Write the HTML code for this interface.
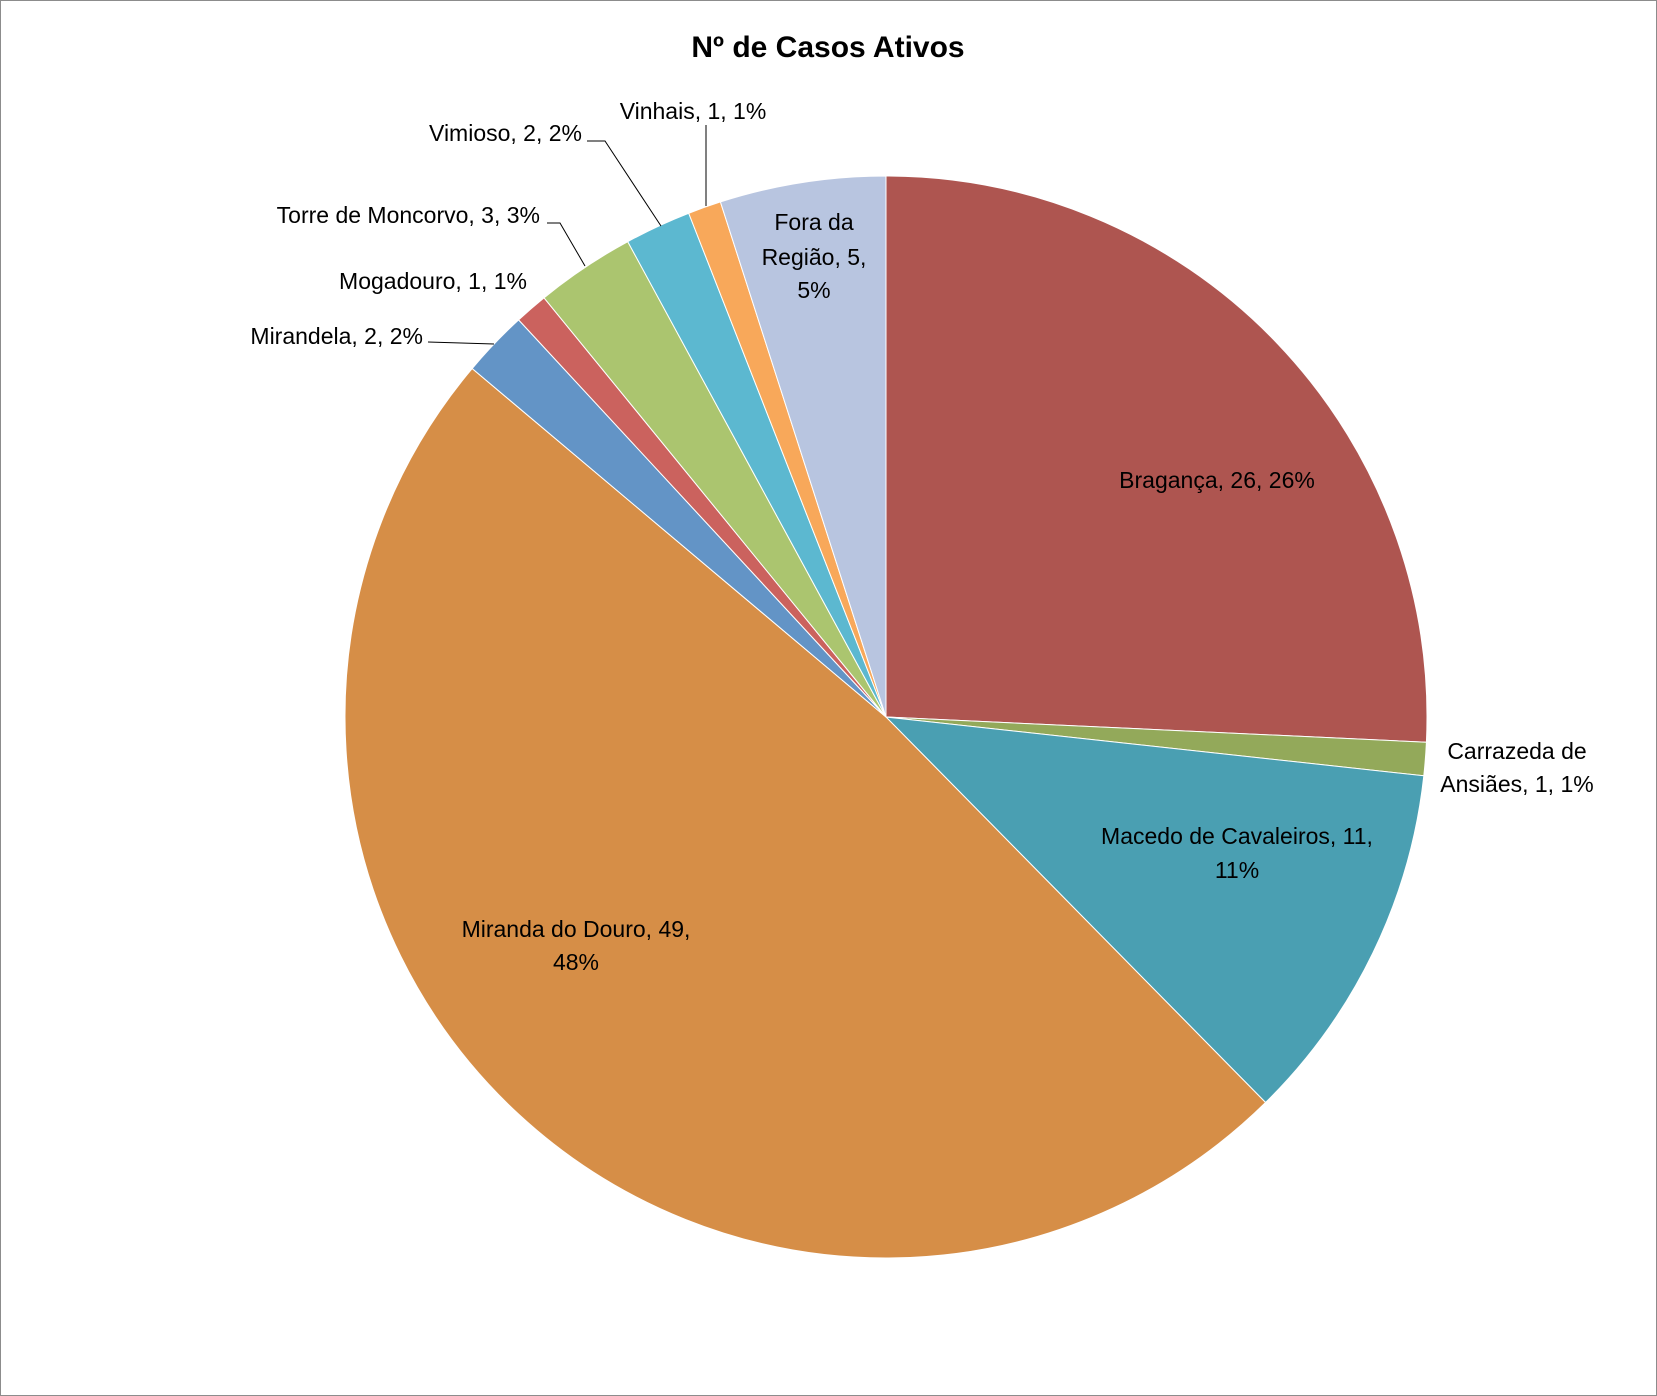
<!DOCTYPE html>
<html><head><meta charset="utf-8"><style>
html,body{margin:0;padding:0;background:#fff}
svg{display:block}
text{font-family:"Liberation Sans",sans-serif;fill:#000}
</style></head><body>
<svg id="chart" width="1657" height="1396" viewBox="0 0 1657 1396" xmlns="http://www.w3.org/2000/svg">
<rect x="0.5" y="0.5" width="1656" height="1395" fill="#fff" stroke="#8c8c8c" stroke-width="1"/>
<text x="828" y="49" text-anchor="middle" dominant-baseline="middle" font-size="30" font-weight="bold">Nº de Casos Ativos</text>
<g id="slices"></g>
<g id="leaders" stroke="#000" stroke-width="1" fill="none">
<polyline points="706,125 706,206"/>
<polyline points="587,141 605,141 661,226"/>
<polyline points="547,223 560,223 585,266"/>
<polyline points="428,342 494,344"/>
</g>
<g id="labels" font-size="23">
<text x="1217" y="482" text-anchor="middle" dominant-baseline="middle">Bragança, 26, 26%</text>
<text text-anchor="middle" dominant-baseline="middle"><tspan x="1517" y="753">Carrazeda de</tspan><tspan x="1517" y="786">Ansiães, 1, 1%</tspan></text>
<text text-anchor="middle" dominant-baseline="middle"><tspan x="1237" y="838">Macedo de Cavaleiros, 11,</tspan><tspan x="1237" y="872">11%</tspan></text>
<text text-anchor="middle" dominant-baseline="middle"><tspan x="576" y="931">Miranda do Douro, 49,</tspan><tspan x="576" y="964">48%</tspan></text>
<text text-anchor="middle" dominant-baseline="middle"><tspan x="814" y="224">Fora da</tspan><tspan x="814" y="259">Região, 5,</tspan><tspan x="814" y="292">5%</tspan></text>
<text x="693" y="113" text-anchor="middle" dominant-baseline="middle">Vinhais, 1, 1%</text>
<text x="582" y="135" text-anchor="end" dominant-baseline="middle">Vimioso, 2, 2%</text>
<text x="540" y="217" text-anchor="end" dominant-baseline="middle">Torre de Moncorvo, 3, 3%</text>
<text x="527" y="283" text-anchor="end" dominant-baseline="middle">Mogadouro, 1, 1%</text>
<text x="423" y="338" text-anchor="end" dominant-baseline="middle">Mirandela, 2, 2%</text>
</g>
</svg>
<script>
const categories = ["Bragança","Carrazeda de Ansiães","Macedo de Cavaleiros","Miranda do Douro","Mirandela","Mogadouro","Torre de Moncorvo","Vimioso","Vinhais","Fora da Região"];
const values = [26,1,11,49,2,1,3,2,1,5];
const colors = ["#AE5550","#93A95A","#4A9FB2","#D68E47","#6394C6","#CB625E","#ABC56F","#5CB8D0","#F8A85A","#B8C5E0"];
const cx = 886, cy = 717, r = 541;
const total = values.reduce((a,b)=>a+b,0);
const g = document.getElementById('slices');
let a0 = 0;
function pt(a){ return [cx + r*Math.sin(a), cy - r*Math.cos(a)]; }
values.forEach((v,i)=>{
  const a1 = a0 + v/total*2*Math.PI;
  const p0 = pt(a0), p1 = pt(a1);
  const large = (a1-a0) > Math.PI ? 1 : 0;
  const path = document.createElementNS('http://www.w3.org/2000/svg','path');
  path.setAttribute('d', `M${cx},${cy} L${p0[0]},${p0[1]} A${r},${r} 0 ${large} 1 ${p1[0]},${p1[1]} Z`);
  path.setAttribute('fill', colors[i]);
  path.setAttribute('stroke', '#fff');
  path.setAttribute('stroke-width', '1');
  
  
  g.appendChild(path);
  a0 = a1;
});
</script>
</body></html>
